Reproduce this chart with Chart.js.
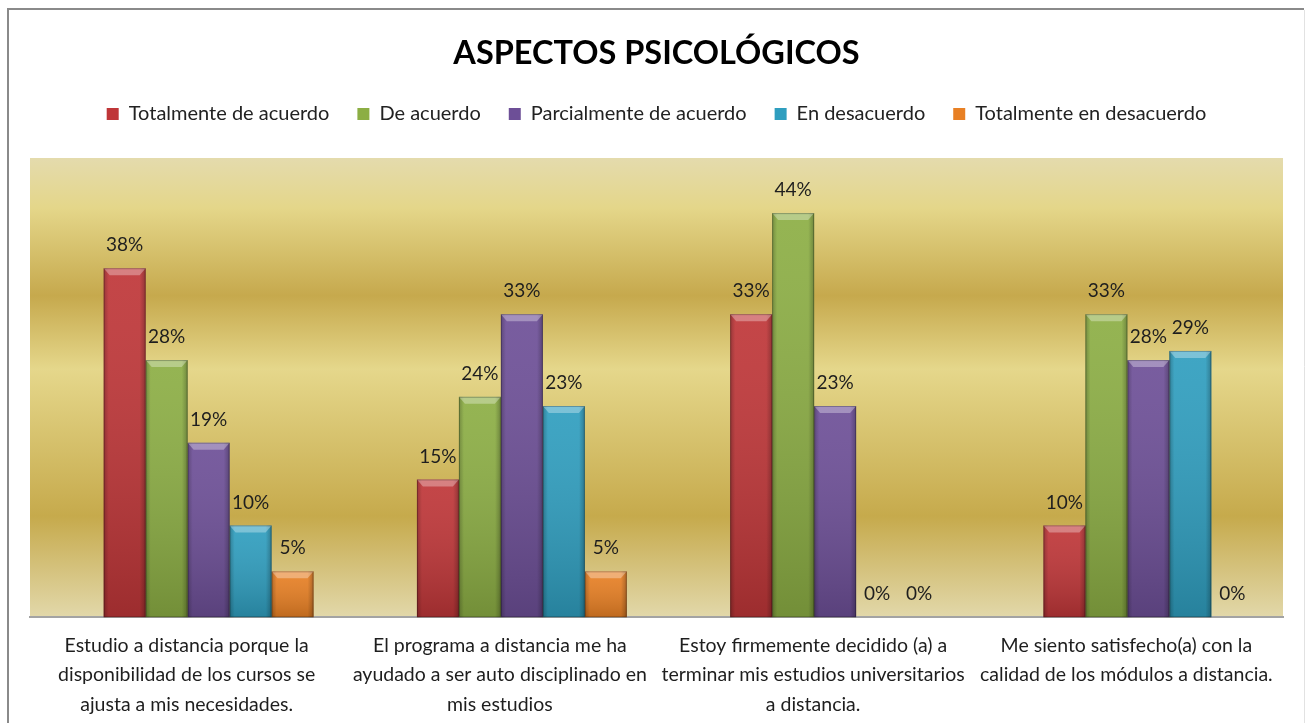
<!DOCTYPE html>
<html>
<head>
<meta charset="utf-8">
<script src="https://cdn.jsdelivr.net/npm/chart.js@4.4.1/dist/chart.umd.min.js"></script>
<style>
  html, body { margin: 0; padding: 0; background: #fff; }
  #wrap { width: 1305px; height: 723px; position: relative; }
</style>
</head>
<body>
<div id="wrap"><canvas id="grafico"></canvas></div>
<script>
// datos
const categorias = [
  ['Estudio a distancia porque la', 'disponibilidad de los cursos se', 'ajusta a mis necesidades.'],
  ['El programa a distancia me ha', 'ayudado a ser auto disciplinado en', 'mis estudios'],
  ['Estoy firmemente decidido (a) a', 'terminar mis estudios universitarios', 'a distancia.'],
  ['Me siento satisfecho(a) con la', 'calidad de los módulos a distancia.']
];
const series = ['Totalmente de acuerdo', 'De acuerdo', 'Parcialmente de acuerdo', 'En desacuerdo', 'Totalmente en desacuerdo'];
const totalmenteDeAcuerdo = [38, 15, 33, 10];
const deAcuerdo = [28, 24, 44, 33];
const parcialmenteDeAcuerdo = [19, 33, 23, 28];
const enDesacuerdo = [10, 23, 0, 29];
const totalmenteEnDesacuerdo = [5, 5, 0, 0];
const colores = ['#bf3638', '#8cae44', '#6d4f97', '#2f9ebf', '#e88024'];

const valores = [totalmenteDeAcuerdo, deAcuerdo, parcialmenteDeAcuerdo, enDesacuerdo, totalmenteEnDesacuerdo];
const FUENTE = 'Lato, "Open Sans", sans-serif';
const DESPLAZAMIENTO = 22; // las barras estan corridas a la derecha como en el original

// fondo blanco, marco y pared dorada
const fondo = {
  id: 'fondo',
  beforeDraw(chart) {
    const { ctx, chartArea: a } = chart;
    ctx.save();
    ctx.fillStyle = '#fff';
    ctx.fillRect(0, 0, chart.width, chart.height);
    const g = ctx.createLinearGradient(0, a.top, 0, a.bottom);
    g.addColorStop(0, '#e4dbad');
    g.addColorStop(0.11, '#e4d689');
    g.addColorStop(0.30, '#c6a94d');
    g.addColorStop(0.46, '#e5d78b');
    g.addColorStop(0.78, '#c6aa4c');
    g.addColorStop(1, '#e2d8aa');
    ctx.fillStyle = g;
    ctx.fillRect(a.left, a.top, a.right - a.left, a.bottom - a.top);
    // marco
    ctx.strokeStyle = '#8a8a8a';
    ctx.lineWidth = 2;
    ctx.beginPath();
    ctx.moveTo(8, chart.height + 5);
    ctx.lineTo(8, 9);
    ctx.lineTo(1304, 9);
    ctx.stroke();
    ctx.strokeStyle = '#e2e2e2';
    ctx.lineWidth = 1;
    ctx.beginPath();
    ctx.moveTo(1304.5, 10);
    ctx.lineTo(1304.5, chart.height);
    ctx.stroke();
    ctx.restore();
  }
};

// barras con bisel + etiquetas de porcentaje
const barras = {
  id: 'barras',
  beforeDatasetsDraw(chart) {
    chart.ctx.save();
    chart.ctx.translate(DESPLAZAMIENTO, 0);
  },
  afterDatasetsDraw(chart) {
    const ctx = chart.ctx;
    chart.data.datasets.forEach((ds, i) => {
      chart.getDatasetMeta(i).data.forEach((bar, j) => {
        const w = bar.width, x0 = bar.x - w / 2, x1 = bar.x + w / 2;
        const top = bar.y, base = bar.base, h = base - top;
        if (h > 1) {
          let g = ctx.createLinearGradient(0, top, 0, base);
          g.addColorStop(0, 'rgba(255,255,255,0.08)');
          g.addColorStop(1, 'rgba(0,0,0,0.18)');
          ctx.fillStyle = g;
          ctx.fillRect(x0, top, w, h);
          g = ctx.createLinearGradient(x0, 0, x1, 0);
          g.addColorStop(0, 'rgba(0,0,0,0.22)');
          g.addColorStop(0.12, 'rgba(0,0,0,0)');
          g.addColorStop(0.86, 'rgba(0,0,0,0)');
          g.addColorStop(1, 'rgba(0,0,0,0.25)');
          ctx.fillStyle = g;
          ctx.fillRect(x0, top, w, h);
          const b = Math.min(7, h / 2);
          ctx.fillStyle = 'rgba(255,255,255,0.32)';
          ctx.beginPath();
          ctx.moveTo(x0, top);
          ctx.lineTo(x1, top);
          ctx.lineTo(x1 - 6, top + b);
          ctx.lineTo(x0 + 6, top + b);
          ctx.closePath();
          ctx.fill();
          ctx.strokeStyle = 'rgba(0,0,0,0.25)';
          ctx.lineWidth = 1;
          ctx.strokeRect(x0 + 0.5, top + 0.5, w - 1, h - 1);
        }
        ctx.fillStyle = '#1e1e1e';
        ctx.font = '19px ' + FUENTE;
        ctx.textAlign = 'center';
        ctx.textBaseline = 'middle';
        ctx.fillText(ds.data[j] + '%', bar.x, top - 23);
      });
    });
    ctx.restore();
  }
};

// alto fijo de la leyenda
const leyendaAlto = {
  id: 'leyendaAlto',
  beforeInit(chart) {
    const fit = chart.legend.fit;
    chart.legend.fit = function () {
      fit.call(this);
      this.height = 82;
    };
  }
};

new Chart(document.getElementById('grafico'), {
  type: 'bar',
  data: {
    labels: categorias,
    datasets: series.map((s, i) => ({
      label: s,
      data: valores[i],
      backgroundColor: colores[i],
      borderWidth: 0,
      barPercentage: 1,
      categoryPercentage: 0.67
    }))
  },
  options: {
    responsive: true,
    maintainAspectRatio: false,
    animation: false,
    layout: { padding: { top: 10, left: 30, right: 22, bottom: -10 } },
    plugins: {
      title: {
        display: true,
        text: 'ASPECTOS PSICOLÓGICOS',
        color: '#000',
        font: { family: FUENTE, size: 32.5, weight: 'bold' },
        padding: { top: 24, bottom: 3 }
      },
      legend: {
        position: 'top',
        labels: {
          boxWidth: 12,
          boxHeight: 12,
          padding: 28,
          color: '#222',
          font: { family: FUENTE, size: 20 }
        }
      },
      tooltip: { enabled: false }
    },
    scales: {
      x: {
        grid: { display: false, drawTicks: false },
        border: { display: true, color: '#a3a3a3', width: 2 },
        ticks: {
          color: '#1e1e1e',
          font: { family: FUENTE, size: 19.5, lineHeight: 1.5 },
          padding: 14,
          autoSkip: false,
          maxRotation: 0
        }
      },
      y: { display: false, min: 0, max: 50 }
    }
  },
  plugins: [fondo, barras, leyendaAlto]
});
</script>
</body>
</html>
